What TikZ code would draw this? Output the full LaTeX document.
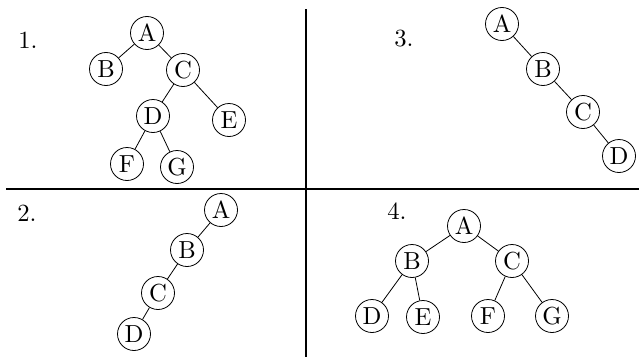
\documentclass[tikz,border=0pt]{standalone}
\usepackage{graphicx}
\usepackage{tikz}
\usetikzlibrary{positioning}

\newcommand{\treelab}[1]{\scalebox{1.85}{\normalsize #1}}

\begin{document}
\begin{tikzpicture}[
  x=0.75pt, y=-0.75pt,
  line width=0.6pt,
  vertex/.style={draw, circle, minimum size=24.75pt, inner sep=0pt},
  label/.style={inner sep=0pt},
  divider/.style={line width=2.2pt}
]
\useasboundingbox (0,0) rectangle (639,357);

% Dividers
\coordinate (hl) at (6,189);
\coordinate (hr) at (639,189);
\coordinate (vt) at (306,9);
\coordinate (vb) at (306,357);
\draw[divider] (hl) -- (hr);
\draw[divider] (vt) -- (vb);

% Tree 1
\node[label] (n1) at (28,40) {\treelab{1.}};
\node[vertex] (t1a) at (147,33) {\treelab{A}};
\node[vertex] (t1b) at (106,69) {\treelab{B}};
\node[vertex] (t1c) at (183,70) {\treelab{C}};
\node[vertex] (t1d) at (153,116) {\treelab{D}};
\node[vertex] (t1e) at (229,120) {\treelab{E}};
\node[vertex] (t1f) at (127,164) {\treelab{F}};
\node[vertex] (t1g) at (177,167) {\treelab{G}};
\draw (t1a) -- (t1b);
\draw (t1a) -- (t1c);
\draw (t1c) -- (t1d);
\draw (t1c) -- (t1e);
\draw (t1d) -- (t1f);
\draw (t1d) -- (t1g);

% Tree 2 (left chain)
\node[label] (n2) at (27,213) {\treelab{2.}};
\foreach \n/\l/\x/\y in {a/A/221/210, b/B/187/250, c/C/158/293, d/D/134/334} {
  \node[vertex] (t2\n) at (\x,\y) {\treelab{\l}};
}
\draw (t2a) -- (t2b) -- (t2c) -- (t2d);

% Tree 3 (right chain)
\node[label] (n3) at (404,39) {\treelab{3.}};
\foreach \n/\l/\x/\y in {a/A/502/24, b/B/543/69, c/C/583/112, d/D/619/156} {
  \node[vertex] (t3\n) at (\x,\y) {\treelab{\l}};
}
\draw (t3a) -- (t3b) -- (t3c) -- (t3d);

% Tree 4 (complete)
\node[label] (n4) at (397,211) {\treelab{4.}};
\node[vertex] (t4a) at (464,226) {\treelab{A}};
\node[vertex] (t4b) at (412,261) {\treelab{B}};
\node[vertex] (t4c) at (512,261) {\treelab{C}};
\node[vertex] (t4d) at (372,316) {\treelab{D}};
\node[vertex] (t4e) at (423,317) {\treelab{E}};
\node[vertex] (t4f) at (488,316) {\treelab{F}};
\node[vertex] (t4g) at (552,316) {\treelab{G}};
\draw (t4a) -- (t4b);
\draw (t4a) -- (t4c);
\draw (t4b) -- (t4d);
\draw (t4b) -- (t4e);
\draw (t4c) -- (t4f);
\draw (t4c) -- (t4g);
\end{tikzpicture}
\end{document}
